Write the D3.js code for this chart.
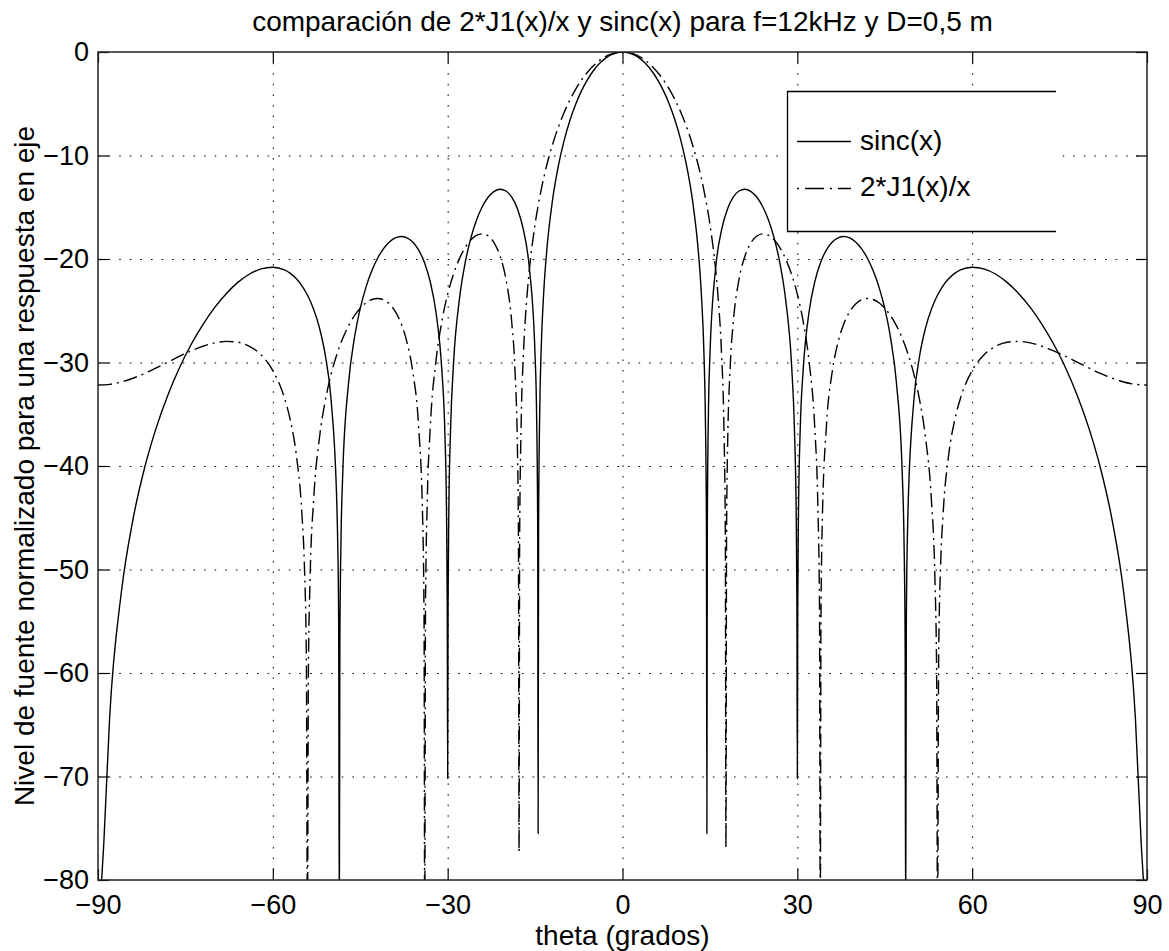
<!DOCTYPE html>
<html>
<head>
<meta charset="utf-8">
<script src="https://cdn.jsdelivr.net/npm/d3@7"></script>
<style>
body { margin: 0; background: #fff; }
text { font-family: "Liberation Sans", Arial, Helvetica, sans-serif; fill: #000; }
</style>
</head>
<body>
<svg width="1169" height="951"></svg>
<script>
// sinc(x) curve, theta in degrees / level in dB
var sincTheta = [
    -90, -89, -88, -86, -84, -82, -80, -78, -76, -74, -72, -70, -68, -66, -64, -62, -60, -58, -57, -56,
    -55, -54, -53, -52, -51, -50, -49, -48.9, -48.7, -48.59, -48.5, -48.3, -48, -47, -46, -45, -44, -43, -42, -41,
    -40, -39, -38, -37, -36, -35, -34, -33, -32, -31, -30.5, -30.2, -30.07, -30, -29.93, -29.8, -29.5, -29, -28, -27,
    -26, -25, -24, -23, -22, -21, -20, -19, -18, -17, -16, -15, -14.75, -14.55, -14.48, -14.4, -14.2, -14, -13.5, -13,
    -12, -11, -10, -9, -8, -7, -6, -5, -4, -3, -2, -1,
    0, 1, 2, 3, 4, 5, 6, 7, 8, 9, 10, 11, 12, 13, 13.5, 14, 14.2, 14.4, 14.48, 14.55,
    14.75, 15, 16, 17, 18, 19, 20, 21, 22, 23, 24, 25, 26, 27, 28, 29, 29.5, 29.8, 29.93, 30,
    30.07, 30.2, 30.5, 31, 32, 33, 34, 35, 36, 37, 38, 39, 40, 41, 42, 43, 44, 45, 46, 47,
    48, 48.3, 48.5, 48.59, 48.7, 48.9, 49, 50, 51, 52, 53, 54, 55, 56, 57, 58, 60, 62, 64, 66,
    68, 70, 72, 74, 76, 78, 80, 82, 84, 86, 88, 89, 90
];
var sincDb = [
    -85, -76.4, -64.27, -52.22, -45.17, -40.17, -36.29, -33.13, -30.48, -28.24, -26.33, -24.7, -23.35, -22.26, -21.45, -20.95, -20.79, -21.06, -21.39, -21.89,
    -22.59, -23.55, -24.86, -26.66, -29.3, -33.63, -44.08, -46.43, -55.43, -85, -57.17, -47.01, -40.7, -31.95, -27.63, -24.77, -22.69, -21.11, -19.9, -19.0,
    -18.36, -17.97, -17.83, -17.95, -18.36, -19.11, -20.32, -22.19, -25.17, -30.74, -36.41, -44.37, -53.49, -70.2, -53.49, -44.37, -36.41, -30.13, -23.95, -20.37,
    -17.93, -16.16, -14.88, -13.99, -13.46, -13.26, -13.43, -14.03, -15.19, -17.19, -20.78, -29.37, -34.69, -46.2, -75.5, -45.61, -34.54, -29.54, -23.05, -19.21,
    -14.28, -10.98, -8.51, -6.57, -4.99, -3.71, -2.66, -1.81, -1.14, -0.64, -0.28, -0.07,
    0, -0.07, -0.28, -0.64, -1.14, -1.81, -2.66, -3.71, -4.99, -6.57, -8.51, -10.98, -14.28, -19.21, -23.05, -29.54, -34.54, -45.61, -75.5, -46.2,
    -34.69, -29.37, -20.78, -17.19, -15.19, -14.03, -13.43, -13.26, -13.46, -13.99, -14.88, -16.16, -17.93, -20.37, -23.95, -30.13, -36.41, -44.37, -53.49, -70.2,
    -53.49, -44.37, -36.41, -30.74, -25.17, -22.19, -20.32, -19.11, -18.36, -17.95, -17.83, -17.97, -18.36, -19.0, -19.9, -21.11, -22.69, -24.77, -27.63, -31.95,
    -40.7, -47.01, -57.17, -85, -55.43, -46.43, -44.08, -33.63, -29.3, -26.66, -24.86, -23.55, -22.59, -21.89, -21.39, -21.06, -20.79, -20.95, -21.45, -22.26,
    -23.35, -24.7, -26.33, -28.24, -30.48, -33.13, -36.29, -40.17, -45.17, -52.22, -64.27, -76.4, -85
];

// 2*J1(x)/x curve
var besselTheta = [
    -90, -88, -86, -84, -82, -80, -78, -76, -74, -72, -70, -68, -66, -64, -62, -60, -58, -57, -56, -55,
    -54.6, -54.25, -54.06, -53.9, -53.6, -53, -52, -51, -50, -49, -48, -47, -46, -45, -44, -43, -42, -41, -40, -39,
    -38, -37, -36, -35, -34.3, -34.05, -33.94, -33.8, -33.5, -33, -32, -31, -30, -29, -28, -27, -26, -25, -24, -23,
    -22, -21, -20, -19, -18.5, -18, -17.85, -17.75, -17.65, -17.4, -17, -16.5, -16, -15, -14, -13, -12, -11, -10, -9,
    -8, -7, -6, -5, -4, -3, -2, -1,
    0, 1, 2, 3, 4, 5, 6, 7, 8, 9, 10, 11, 12, 13, 14, 15, 16, 16.5, 17, 17.4,
    17.65, 17.75, 17.85, 18, 18.5, 19, 20, 21, 22, 23, 24, 25, 26, 27, 28, 29, 30, 31, 32, 33,
    33.5, 33.8, 33.94, 34.05, 34.3, 35, 36, 37, 38, 39, 40, 41, 42, 43, 44, 45, 46, 47, 48, 49,
    50, 51, 52, 53, 53.6, 53.9, 54.06, 54.25, 54.6, 55, 56, 57, 58, 60, 62, 64, 66, 68, 70, 72,
    74, 76, 78, 80, 82, 84, 86, 88, 90
];
var besselDb = [
    -32.18, -32.11, -31.88, -31.52, -31.06, -30.52, -29.96, -29.39, -28.87, -28.43, -28.11, -27.96, -28.04, -28.44, -29.27, -30.78, -33.44, -35.57, -38.8, -44.74,
    -49.34, -58.41, -85, -59.9, -50.73, -43.27, -37.28, -33.68, -31.13, -29.19, -27.66, -26.44, -25.48, -24.75, -24.23, -23.91, -23.81, -23.94, -24.34, -25.07,
    -26.22, -28.0, -30.84, -36.08, -44.96, -55.09, -85, -53.42, -43.35, -36.41, -29.82, -26.03, -23.4, -21.46, -19.99, -18.9, -18.15, -17.7, -17.57, -17.8,
    -18.46, -19.73, -21.95, -26.16, -30.17, -39.23, -47.41, -77.3, -46.89, -36.19, -29.17, -24.38, -21.14, -16.64, -13.44, -10.94, -8.93, -7.24, -5.82, -4.6,
    -3.56, -2.68, -1.95, -1.34, -0.85, -0.47, -0.21, -0.05,
    0, -0.05, -0.21, -0.47, -0.85, -1.34, -1.95, -2.68, -3.56, -4.6, -5.82, -7.24, -8.93, -10.94, -13.44, -16.64, -21.14, -24.38, -29.17, -36.19,
    -46.89, -76.9, -47.41, -39.23, -30.17, -26.16, -21.95, -19.73, -18.46, -17.8, -17.57, -17.7, -18.15, -18.9, -19.99, -21.46, -23.4, -26.03, -29.82, -36.41,
    -43.35, -53.42, -85, -55.09, -44.96, -36.08, -30.84, -28.0, -26.22, -25.07, -24.34, -23.94, -23.81, -23.91, -24.23, -24.75, -25.48, -26.44, -27.66, -29.19,
    -31.13, -33.68, -37.28, -43.27, -50.73, -59.9, -85, -58.41, -49.34, -44.74, -38.8, -35.57, -33.44, -30.78, -29.27, -28.44, -28.04, -27.96, -28.11, -28.43,
    -28.87, -29.39, -29.96, -30.52, -31.06, -31.52, -31.88, -32.11, -32.18
];

var xTicks = [-90, -60, -30, 0, 30, 60, 90];
var yTicks = [0, -10, -20, -30, -40, -50, -60, -70, -80];
var seriesNames = ["sinc(x)", "2*J1(x)/x"];

var svg = d3.select('svg');
var plotLeft = 98, plotTop = 52, plotRight = 1147, plotBottom = 880;

var x = d3.scaleLinear().domain([-90, 90]).range([plotLeft, plotRight]);
var y = d3.scaleLinear().domain([-80, 0]).range([plotBottom, plotTop]);

svg.append("defs").append("clipPath").attr("id", "plotclip")
    .append("rect")
    .attr("x", plotLeft).attr("y", plotTop)
    .attr("width", plotRight - plotLeft).attr("height", plotBottom - plotTop);

// dotted grid
var grid = svg.append("g")
    .attr("stroke", "#000")
    .attr("stroke-width", 1)
    .attr("stroke-dasharray", "1.6,9");

grid.selectAll(".gx")
    .data(xTicks.slice(1, -1))
    .enter()
    .append("line")
    .attr("x1", function(d) { return x(d) + 0.5; })
    .attr("x2", function(d) { return x(d) + 0.5; })
    .attr("y1", plotTop)
    .attr("y2", plotBottom);

grid.selectAll(".gy")
    .data(yTicks.slice(1, -1))
    .enter()
    .append("line")
    .attr("y1", function(d) { return y(d) + 0.5; })
    .attr("y2", function(d) { return y(d) + 0.5; })
    .attr("x1", plotLeft)
    .attr("x2", plotRight);

// curves
var line = d3.line()
    .x(function(d) { return x(d[0]); })
    .y(function(d) { return y(d[1]); })
    .curve(d3.curveMonotoneX);

var curves = svg.append("g").attr("clip-path", "url(#plotclip)");

curves.append("path")
    .datum(d3.zip(sincTheta, sincDb))
    .attr("d", line)
    .attr("fill", "none")
    .attr("stroke", "#000")
    .attr("stroke-width", 1.4);

curves.append("path")
    .datum(d3.zip(besselTheta, besselDb))
    .attr("d", line)
    .attr("fill", "none")
    .attr("stroke", "#000")
    .attr("stroke-width", 1.4)
    .attr("stroke-dasharray", "14,5,2,5");

// axes, ticks pointing inwards like matlab
function styleAxis(g) {
    g.select(".domain").remove();
    g.selectAll(".tick line").attr("stroke", "#000").attr("stroke-width", 1.2);
    g.selectAll(".tick text")
        .attr("fill", "#000")
        .style("font-size", "27px")
        .style("font-family", "'Liberation Sans', Arial, sans-serif");
}

svg.append("g")
    .attr("transform", "translate(0," + plotBottom + ")")
    .call(d3.axisBottom(x).tickValues(xTicks).tickSize(-11).tickPadding(15))
    .call(styleAxis);

svg.append("g")
    .attr("transform", "translate(0," + plotTop + ")")
    .call(d3.axisTop(x).tickValues(xTicks).tickSize(-11).tickFormat(""))
    .call(styleAxis);

svg.append("g")
    .attr("transform", "translate(" + plotLeft + ",0)")
    .call(d3.axisLeft(y).tickValues(yTicks).tickSize(-11).tickPadding(9))
    .call(styleAxis);

svg.append("g")
    .attr("transform", "translate(" + plotRight + ",0)")
    .call(d3.axisRight(y).tickValues(yTicks).tickSize(-11).tickFormat(""))
    .call(styleAxis);

// box
svg.append("rect")
    .attr("x", plotLeft).attr("y", plotTop)
    .attr("width", plotRight - plotLeft).attr("height", plotBottom - plotTop)
    .attr("fill", "none")
    .attr("stroke", "#222")
    .attr("stroke-width", 1.5);

// legend (right edge of the box is missing in the original)
var legend = svg.append("g");
legend.append("rect")
    .attr("x", 787).attr("y", 91).attr("width", 270).attr("height", 140)
    .attr("fill", "#fff");
legend.append("path")
    .attr("d", "M1056,91.5H787.5V231.5H1056")
    .attr("fill", "none")
    .attr("stroke", "#000")
    .attr("stroke-width", 1.3);

legend.append("line")
    .attr("x1", 797).attr("x2", 851).attr("y1", 141.5).attr("y2", 141.5)
    .attr("stroke", "#000").attr("stroke-width", 1.4);
legend.append("line")
    .attr("x1", 797).attr("x2", 851).attr("y1", 188.5).attr("y2", 188.5)
    .attr("stroke", "#000").attr("stroke-width", 1.4)
    .attr("stroke-dasharray", "2,6,19,6");

legend.selectAll(".lt")
    .data(seriesNames)
    .enter()
    .append("text")
    .attr("x", 860)
    .attr("y", function(d, i) { return 150 + i * 46; })
    .style("font-size", "28px")
    .text(function(d) { return d; });

// title and labels
svg.append("text")
    .attr("x", (plotLeft + plotRight) / 2)
    .attr("y", 31)
    .attr("text-anchor", "middle")
    .style("font-size", "28px")
    .text("comparación de 2*J1(x)/x y sinc(x) para f=12kHz y D=0,5 m");

svg.append("text")
    .attr("x", (plotLeft + plotRight) / 2)
    .attr("y", 945)
    .attr("text-anchor", "middle")
    .style("font-size", "28px")
    .text("theta (grados)");

svg.append("text")
    .attr("transform", "translate(34," + ((plotTop + plotBottom) / 2) + ") rotate(-90)")
    .attr("text-anchor", "middle")
    .style("font-size", "28px")
    .text("Nivel de fuente normalizado para una respuesta en eje");
</script>
</body>
</html>
